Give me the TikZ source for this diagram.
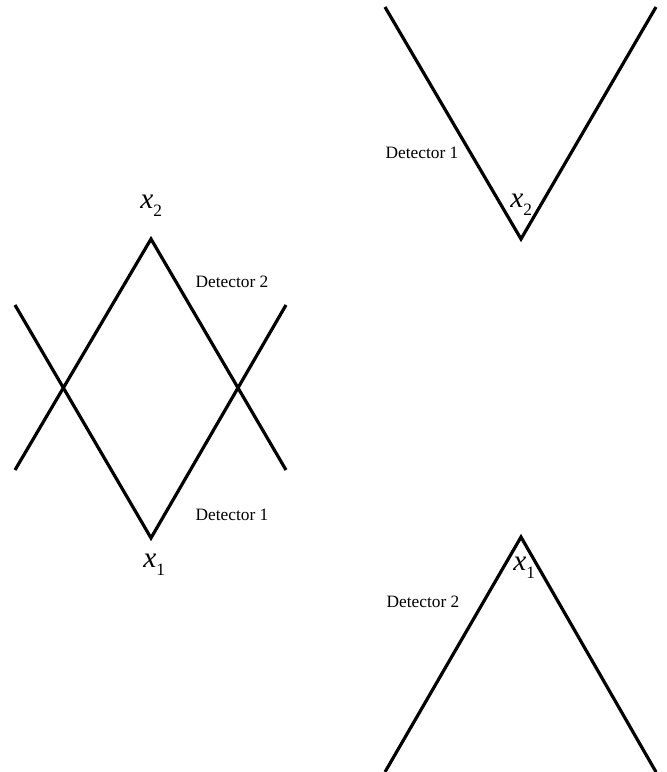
\documentclass[tikz,border=0pt]{standalone}
\usepackage{fontspec}
\setmainfont{Liberation Serif}
\newcommand{\detfont}{\fontsize{13pt}{13pt}\selectfont}
\newcommand{\xlab}[1]{{\fontsize{22pt}{22pt}\selectfont\itshape x}{\fontsize{13pt}{13pt}\selectfont\raisebox{-6pt}{#1}}}
\begin{document}
\begin{tikzpicture}[x=0.75pt,y=-0.75pt,
  wave/.style={line width=2.4pt,line join=miter,black},
  det/.style={inner sep=0pt,anchor=base,font=\detfont},
  xl/.style={inner sep=0pt,anchor=base west}]
\useasboundingbox (0,0) rectangle (667,772);
% left diagram
\coordinate (a1) at (15,305);
\coordinate (v1) at (151,538);
\coordinate (a2) at (286,305);
\coordinate (b1) at (15,470);
\coordinate (v2) at (151,239);
\coordinate (b2) at (286,470);
\draw[wave] (a1) -- (v1) -- (a2);
\draw[wave] (b1) -- (v2) -- (b2);
\node[xl] (lx2) at (140,208) {\xlab{2}};
\node[xl] (lx1) at (143,567) {\xlab{1}};
\node[det] (ld2) at (232,287) {Detector 2};
\node[det] (ld1) at (232,520) {Detector 1};
% right top
\coordinate (c1) at (385,7);
\coordinate (v3) at (521,239);
\coordinate (c2) at (656,7);
\draw[wave] (c1) -- (v3) -- (c2);
\node[det] (rd1) at (422,158) {Detector 1};
\node[xl] (rx2) at (510,207) {\xlab{2}};
% right bottom
\coordinate (d1) at (385,772);
\coordinate (v4) at (521,537);
\coordinate (d2) at (656,772);
\draw[wave] (d1) -- (v4) -- (d2);
\node[det] (rd2) at (423,607) {Detector 2};
\node[xl] (rx1) at (513,570) {\xlab{1}};
\end{tikzpicture}
\end{document}
